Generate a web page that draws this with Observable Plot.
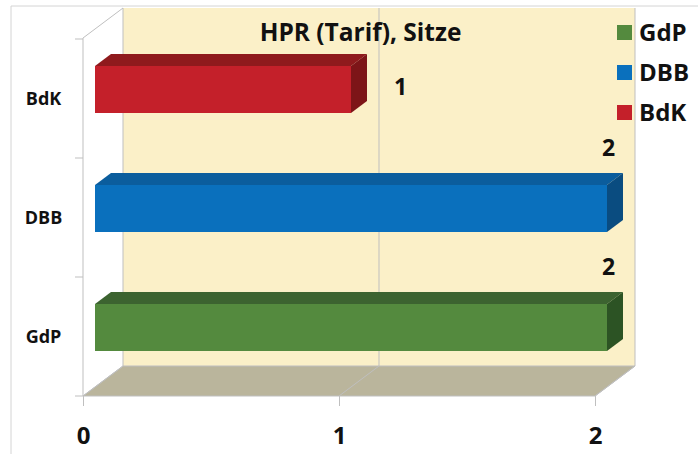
<!DOCTYPE html>
<html><head><meta charset="utf-8">
<script src="https://cdn.jsdelivr.net/npm/d3@7"></script>
<script src="https://cdn.jsdelivr.net/npm/@observablehq/plot@0.6"></script>
<style>html,body{margin:0;padding:0;background:#fff}svg{display:block}</style>
</head><body><div id="chart"></div>
<script>
// ---- data ----
const categories = ["BdK", "DBB", "GdP"];   // top to bottom
const seats = [1, 2, 2];
const legendOrder = ["GdP", "DBB", "BdK"];
const xTicks = [0, 1, 2];
const title = "HPR (Tarif), Sitze";

const data = categories.map((party, i) => ({party, value: seats[i]}));
const maxVal = d3.max(seats);

// ---- styles ----
const FRONT = {BdK: "#c4202a", DBB: "#0a70bd", GdP: "#548a3e"};
const TOP   = {BdK: "#8f1a1d", DBB: "#0b5d9d", GdP: "#3c6330"};
const SIDE  = {BdK: "#7d1518", DBB: "#0a4c80", GdP: "#2c5324"};
const WALL = "#fbf0c8", FLOOR = "#bab59c", GRID = "#bfbfbf";
const DEPTH = [40, -30];          // pixel offset of the back wall
const NEAR = 0.3, FAR = 0.7;      // bar depth extent
const BAR_INSET = 36;
const FONT = "'Open Sans', sans-serif";

function backdrop(index, scales, values, dims) {
  const x = scales.x, y = scales.y;
  const [dx, dz] = DEPTH;
  const x0 = x(xTicks[0]), x1 = x(xTicks[xTicks.length - 1]);
  const yT = dims.marginTop, yB = dims.height - dims.marginBottom;
  const g = d3.create("svg:g");
  g.append("path").attr("d", `M11,${dims.height}V6H${dims.width}`).attr("fill", "none").attr("stroke", "#d4d4d4");
  g.append("rect").attr("x", x0 + dx).attr("y", yT + dz).attr("width", x1 - x0).attr("height", yB - yT).attr("fill", WALL);
  g.append("path").attr("d", `M${x0},${yB}L${x1},${yB}L${x1 + dx},${yB + dz}L${x0 + dx},${yB + dz}Z`)
    .attr("fill", FLOOR).attr("stroke", GRID);
  for (const t of xTicks) {
    const px = x(t);
    g.append("path").attr("d", `M${px + dx},${yT + dz}V${yB + dz}M${px},${yB}L${px + dx},${yB + dz}`)
      .attr("fill", "none").attr("stroke", GRID);
  }
  g.append("path").attr("d", `M${x0 + dx},${yT + dz}L${x0},${yT}V${yB}`).attr("fill", "none").attr("stroke", GRID);
  const bounds = categories.map(c => y(c)).concat([y(categories[categories.length - 1]) + y.bandwidth()]);
  for (const b of bounds) g.append("path").attr("d", `M${x0 - 8},${b}H${x0}`).attr("stroke", GRID);
  return g.node();
}

function bars3d(index, scales, values) {
  const [dx, dz] = DEPTH;
  const bw = scales.y.bandwidth();
  const g = d3.create("svg:g");
  for (const i of index) {
    const d = data[i];
    const xs = values.x1[i], xe = values.x2[i];
    const yb = values.y[i] + BAR_INSET, ye = values.y[i] + bw - BAR_INSET;
    const n0 = dx * NEAR, n1 = dz * NEAR, f0 = dx * FAR, f1 = dz * FAR;
    g.append("path").attr("fill", TOP[d.party])
      .attr("d", `M${xs + n0},${yb + n1}L${xe + n0},${yb + n1}L${xe + f0},${yb + f1}L${xs + f0},${yb + f1}Z`);
    g.append("path").attr("fill", SIDE[d.party])
      .attr("d", `M${xe + n0},${yb + n1}L${xe + f0},${yb + f1}L${xe + f0},${ye + f1}L${xe + n0},${ye + n1}Z`);
    g.append("rect").attr("fill", values.fill[i])
      .attr("x", xs + n0).attr("y", yb + n1).attr("width", xe - xs).attr("height", ye - yb);
  }
  return g.node();
}

function legend(index, scales, values, dims) {
  const g = d3.create("svg:g").attr("font-family", FONT).attr("text-anchor", "start");
  legendOrder.forEach((c, i) => {
    const cy = 32 + i * 40;
    g.append("rect").attr("x", 617).attr("y", cy - 7).attr("width", 15).attr("height", 15).attr("fill", scales.color(c));
    g.append("text").attr("x", 639).attr("y", cy).attr("dy", "0.36em")
      .attr("font-size", 24).attr("font-weight", "bold").attr("fill", "#111").text(c);
  });
  return g.node();
}

const chart = Plot.plot({
  width: 698, height: 454,
  marginLeft: 83, marginRight: 103, marginTop: 38, marginBottom: 58,
  x: {domain: [xTicks[0], xTicks[xTicks.length - 1]]},
  y: {domain: categories, padding: 0},
  color: {domain: categories, range: categories.map(c => FRONT[c])},
  style: {fontFamily: FONT, background: "white", overflow: "visible"},
  marks: [
    backdrop,
    Plot.barX(data, {x: "value", y: "party", fill: "party", render: bars3d}),
    Plot.text(data.filter(d => d.value < maxVal), {x: "value", y: "party", text: d => String(d.value),
      dx: 61, dy: -11, fontSize: 23, fontWeight: "bold", fill: "#111"}),
    Plot.text(data.filter(d => d.value === maxVal), {x: "value", y: "party", text: d => String(d.value),
      dx: 13, dy: -69, fontSize: 23, fontWeight: "bold", fill: "#111"}),
    Plot.axisX({ticks: xTicks, tickFormat: d3.format("d"), tickSize: 10, tickPadding: 20, stroke: GRID, fill: "#111",
      fontSize: 24, fontWeight: "bold", label: null}),
    Plot.axisY({tickSize: 0, tickPadding: 40, textAnchor: "middle", fontSize: 18, fontWeight: "bold", fill: "#111", label: null}),
    Plot.text([title], {frameAnchor: "top", lineAnchor: "middle", dx: 21, dy: -5, fontSize: 24.5, fontWeight: "bold", fill: "#111"}),
    legend
  ]
});
document.getElementById("chart").append(chart);
</script>
</body></html>
